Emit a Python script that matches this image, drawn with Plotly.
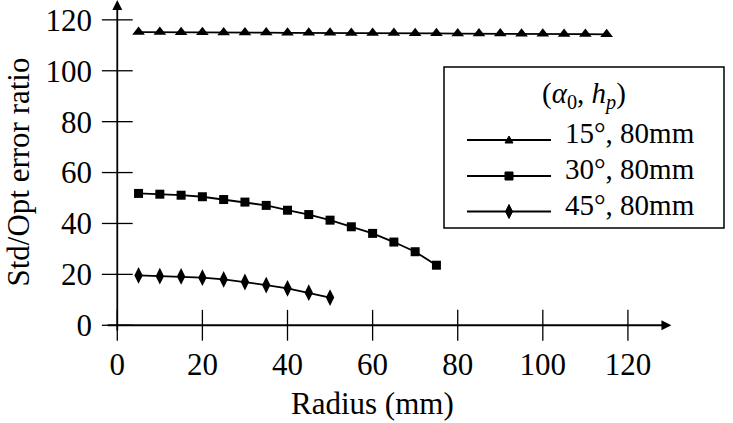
import plotly.graph_objects as go

# ---- data ----
radius_15 = [5, 10, 15, 20, 25, 30, 35, 40, 45, 50, 55, 60, 65, 70, 75, 80, 85, 90, 95, 100, 105, 110, 115]
ratio_15 = [115.2, 115.2, 115.1, 115.1, 115.0, 115.0, 115.0, 114.9, 114.9, 114.9, 114.8, 114.8, 114.8,
            114.7, 114.7, 114.6, 114.6, 114.6, 114.5, 114.5, 114.4, 114.4, 114.3]
radius_30 = [5, 10, 15, 20, 25, 30, 35, 40, 45, 50, 55, 60, 65, 70, 75]
ratio_30 = [51.8, 51.5, 51.1, 50.5, 49.4, 48.4, 47.1, 45.2, 43.5, 41.3, 38.7, 36.1, 32.7, 28.9, 23.6]
radius_45 = [5, 10, 15, 20, 25, 30, 35, 40, 45, 50]
ratio_45 = [19.6, 19.3, 19.2, 18.7, 18.0, 17.0, 15.8, 14.5, 12.8, 10.9]

series_names = ["15°, 80mm", "30°, 80mm", "45°, 80mm"]
x_ticks = [0, 20, 40, 60, 80, 100, 120]
y_ticks = [0, 20, 40, 60, 80, 100, 120]

FONT = "Liberation Serif, 'Times New Roman', Times, 'DejaVu Serif', serif"
W, H = 733, 423
ML, MR, MT, MB = 96, 54, 0, 85
PW, PH = W - ML - MR, H - MT - MB


def px(x):
    return (x - ML) / PW


def py(y):
    return 1 - (y - MT) / PH


fig = go.Figure()

# tick marks crossing the axes (drawn through the axes' own scales)
fig.add_trace(go.Scatter(
    x=x_ticks, y=[0] * len(x_ticks), mode="markers", hoverinfo="skip", showlegend=False,
    marker=dict(symbol="line-ns-open", size=22, color="black", line=dict(color="black", width=1.3)),
    cliponaxis=False,
))
fig.add_trace(go.Scatter(
    x=[0] * len(y_ticks), y=y_ticks, mode="markers", hoverinfo="skip", showlegend=False,
    marker=dict(symbol="line-ew-open", size=22, color="black", line=dict(color="black", width=1.3)),
    cliponaxis=False,
))

series = [
    (radius_15, ratio_15, "triangle-up", 11),
    (radius_30, ratio_30, "square", 9),
    (radius_45, ratio_45, "diamond-tall", 12),
]
for (xs, ys, sym, sz), name in zip(series, series_names):
    fig.add_trace(go.Scatter(
        x=xs, y=ys, name=name, mode="lines+markers",
        line=dict(color="black", width=1.8),
        marker=dict(symbol=sym, size=sz, color="black"),
        cliponaxis=False, showlegend=False,
    ))

shapes = []
annotations = []
# axis lines with arrow heads
annotations.append(dict(xref="x", yref="y", axref="x", ayref="y",
                        x=130.2, y=0, ax=-2.6, ay=0, text="", showarrow=True,
                        arrowhead=2, arrowsize=1.1, arrowwidth=1.8, arrowcolor="black"))
annotations.append(dict(xref="x", yref="y", axref="x", ayref="y",
                        x=0, y=127.8, ax=0, ay=-2.6, text="", showarrow=True,
                        arrowhead=2, arrowsize=1.1, arrowwidth=1.8, arrowcolor="black"))

# manual legend
shapes.append(dict(type="rect", xref="paper", yref="paper",
                   x0=px(444), x1=px(724), y0=py(67), y1=py(228),
                   line=dict(color="black", width=1.5), fillcolor="white", layer="below"))
row_y = [140, 176, 211.5]
marker_paths = [
    "M-4,-3 L4,-3 L0,4 Z",
    "M-4,-4 L4,-4 L4,4 L-4,4 Z",
    "M0,-7 L3.5,0 L0,7 L-3.5,0 Z",
]
for ry, path, name in zip(row_y, marker_paths, series_names):
    shapes.append(dict(type="line", xref="paper", yref="paper",
                       x0=px(467), x1=px(551), y0=py(ry), y1=py(ry),
                       line=dict(color="black", width=1.8)))
    shapes.append(dict(type="path", xref="paper", yref="paper",
                       xsizemode="pixel", ysizemode="pixel",
                       xanchor=px(509), yanchor=py(ry), path=path,
                       fillcolor="black", line=dict(color="black", width=1)))
    annotations.append(dict(xref="paper", yref="paper", x=px(563), y=py(ry - 7),
                            text=name, showarrow=False, xanchor="left", yanchor="middle",
                            font=dict(family=FONT, size=29, color="black")))
annotations.append(dict(xref="paper", yref="paper", x=px(584), y=py(95),
                        text="(<i>α</i><sub>0</sub>, <i>h</i><sub><i>p</i></sub>)",
                        showarrow=False, xanchor="center", yanchor="middle",
                        font=dict(family=FONT, size=29, color="black")))

# axis titles
annotations.append(dict(xref="x", yref="paper", x=60, y=py(403), text="Radius (mm)",
                        showarrow=False, xanchor="center", yanchor="middle",
                        font=dict(family=FONT, size=31, color="black")))
annotations.append(dict(xref="paper", yref="y", x=px(19), y=60, text="Std/Opt error ratio",
                        showarrow=False, textangle=-90, xanchor="center", yanchor="middle",
                        font=dict(family=FONT, size=31, color="black")))

fig.update_layout(
    width=W, height=H,
    margin=dict(l=ML, r=MR, t=MT, b=MB, autoexpand=False),
    plot_bgcolor="white", paper_bgcolor="white",
    shapes=shapes, annotations=annotations, showlegend=False,
)
fig.update_xaxes(range=[-5, 132], tickvals=x_ticks, ticktext=[str(v) for v in x_ticks],
                 showgrid=False, zeroline=False, showline=False, ticks="",
                 tickfont=dict(family=FONT, size=31, color="black"), ticklabelstandoff=5)
fig.update_yaxes(range=[-5, 127.8], tickvals=y_ticks, ticktext=[str(v) for v in y_ticks],
                 showgrid=False, zeroline=False, showline=False, ticks="",
                 tickfont=dict(family=FONT, size=31, color="black"), ticklabelstandoff=3)

fig.write_html("out.html")
